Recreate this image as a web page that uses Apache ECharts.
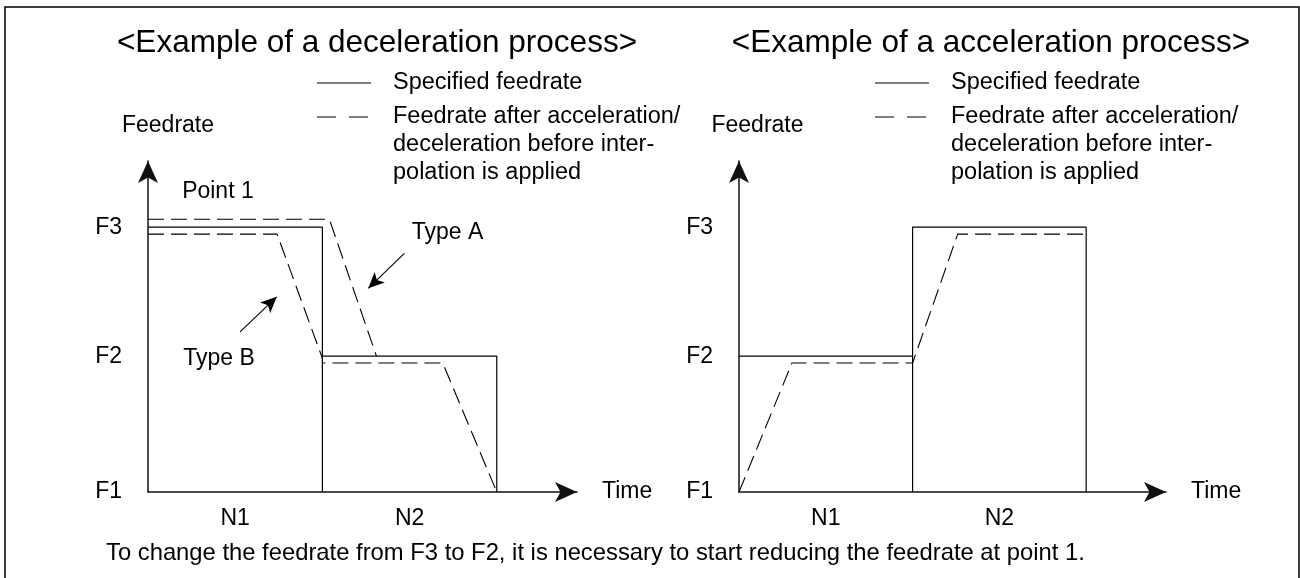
<!DOCTYPE html>
<html>
<head>
<meta charset="utf-8">
<script src="https://cdn.jsdelivr.net/npm/echarts@6/dist/echarts.min.js"></script>
<style>html,body{margin:0;padding:0;background:#fff;}#chart{width:1300px;height:578px;}</style>
</head>
<body>
<div id="chart"></div>
<script>
// ---- data ----
const xMax = 2.46;
const yMax = 12.5;
const yTickValues = [0, 5.13, 10];
const yTickLabels = ['F1', 'F2', 'F3'];
const xTickValues = [0.5, 1.5];
const xTickLabels = ['N1', 'N2'];

const decelSpecified = [[0, 10], [1, 10], [1, 0], [1, 5.13], [2, 5.13], [2, 0]];
const decelTypeA = [[0, 10.3], [1.04, 10.3], [1.31, 5.13]];
const decelTypeB = [[0, 9.74], [0.74, 9.74], [1, 5.05], [1, 4.87], [1.69, 4.87], [2, 0]];
const accelSpecified = [[0, 5.13], [1, 5.13], [1, 0], [1, 10], [2, 10], [2, 0]];
const accelActual = [[0, 0], [0.305, 4.87], [1, 4.87], [1.26, 9.74], [2, 9.74]];

const arrowTypeA = [[1.470, 9.01], [1.263, 7.69]];
const arrowTypeB = [[0.528, 6.05], [0.738, 7.37]];
const annotations = [
  { name: 'Point 1', coord: [0.401, 11.36] },
  { name: 'Type A', coord: [1.717, 9.81] },
  { name: 'Type B', coord: [0.407, 5.02] }
];

const titles = ['<Example of a deceleration process>', '<Example of a acceleration process>'];
const legendNames = ['Specified feedrate', 'Feedrate after acceleration/\ndeceleration before inter-\npolation is applied'];
const footer = 'To change the feedrate from F3 to F2, it is necessary to start reducing the feedrate at point 1.';
const yName = 'Feedrate';
const xName = 'Time';

// ---- styling ----
const FONT = 'Liberation Sans, Arial, sans-serif';
const INK = '#000';
const solidStyle = { color: INK, width: 1.2, type: 'solid' };
const dashStyle = { color: INK, width: 1.1, type: [16, 7] };

function makeX(gridIndex) {
  return {
    type: 'value', gridIndex, min: 0, max: xMax,
    name: xName, nameLocation: 'end', nameGap: 25,
    nameTextStyle: { fontFamily: FONT, fontSize: 23, color: INK },
    axisLine: { show: true, lineStyle: { color: '#111', width: 1.5 }, symbol: ['none', 'arrow'], symbolSize: [15, 22] },
    axisTick: { show: false },
    splitLine: { show: false },
    axisLabel: {
      customValues: xTickValues, margin: 15,
      fontFamily: FONT, fontSize: 23, color: INK,
      formatter: v => xTickLabels[xTickValues.indexOf(v)] || ''
    }
  };
}
function makeY(gridIndex, padLeft) {
  return {
    type: 'value', gridIndex, min: 0, max: yMax,
    name: yName, nameLocation: 'end', nameGap: 24,
    nameTextStyle: { fontFamily: FONT, fontSize: 23, color: INK, align: 'center', padding: [0, 0, 0, padLeft] },
    axisLine: { show: true, lineStyle: { color: '#111', width: 1.5 }, symbol: ['none', 'arrow'], symbolSize: [15, 22] },
    axisTick: { show: false },
    splitLine: { show: false },
    axisLabel: {
      customValues: yTickValues, margin: 26,
      fontFamily: FONT, fontSize: 23, color: INK,
      formatter: v => yTickLabels[yTickValues.indexOf(v)] || ''
    }
  };
}
function lineSeries(name, data, style, xi, extra) {
  return Object.assign({
    type: 'line', name, data, xAxisIndex: xi, yAxisIndex: xi,
    symbol: 'none', lineStyle: style, silent: true, animation: false, z: 3
  }, extra || {});
}
function arrowLine(pts) {
  return [{ coord: pts[0] }, { coord: pts[1] }];
}

const chart = echarts.init(document.getElementById('chart'), null, { renderer: 'canvas' });

function legendGraphic(x0, textX) {
  return [
    { type: 'line', shape: { x1: x0, y1: 83, x2: x0 + 54, y2: 83 }, style: { stroke: INK, lineWidth: 1.2 } },
    { type: 'line', shape: { x1: x0, y1: 117, x2: x0 + 54, y2: 117 }, style: { stroke: INK, lineWidth: 1.2, lineDash: [19, 13] } },
    { type: 'text', x: textX, y: 83, style: { text: legendNames[0], font: '23.5px ' + FONT, fill: INK, verticalAlign: 'middle' } },
    { type: 'text', x: textX, y: 103, style: { text: legendNames[1], font: '23.5px ' + FONT, fill: INK, lineHeight: 28, verticalAlign: 'top' } }
  ];
}

const option = {
  backgroundColor: '#fff',
  animation: false,
  textStyle: { fontFamily: FONT },
  title: [
    { text: titles[0], left: 372, top: 22, textAlign: 'center', textStyle: { fontFamily: FONT, fontSize: 31.5, fontWeight: 'normal', color: INK } },
    { text: titles[1], left: 986, top: 22, textAlign: 'center', textStyle: { fontFamily: FONT, fontSize: 31.5, fontWeight: 'normal', color: INK } }
  ],
  grid: [
    { left: 148, right: 723, top: 161, bottom: 86, containLabel: false },
    { left: 739, right: 134, top: 161, bottom: 86, containLabel: false }
  ],
  xAxis: [makeX(0), makeX(1)],
  yAxis: [makeY(0, 40), makeY(1, 37)],
  graphic: [
    { type: 'rect', shape: { x: 5, y: 7, width: 1294, height: 620 }, style: { fill: 'none', stroke: INK, lineWidth: 1.5 }, silent: true },
    ...legendGraphic(317, 393),
    ...legendGraphic(875, 951),
    { type: 'text', x: 106, y: 553, style: { text: footer, font: '23.8px ' + FONT, fill: INK, verticalAlign: 'middle' } }
  ],
  series: [
    lineSeries(legendNames[0], decelSpecified, solidStyle, 0, {
      markPoint: {
        symbol: 'circle', symbolSize: 1, itemStyle: { color: 'rgba(0,0,0,0)' }, silent: true, animation: false,
        label: { show: true, position: 'inside', formatter: '{b}', fontFamily: FONT, fontSize: 23, color: INK },
        data: annotations.map(a => ({ name: a.name, coord: a.coord }))
      },
      markLine: {
        symbol: ['none', 'arrow'], symbolSize: [11, 16], silent: true, animation: false,
        label: { show: false },
        lineStyle: { color: INK, width: 1.1, type: 'solid' },
        data: [arrowLine(arrowTypeA), arrowLine(arrowTypeB)]
      }
    }),
    lineSeries(legendNames[1] + ' (Type A)', decelTypeA, dashStyle, 0),
    lineSeries(legendNames[1] + ' (Type B)', decelTypeB, dashStyle, 0),
    lineSeries(legendNames[0] + ' ', accelSpecified, solidStyle, 1),
    lineSeries(legendNames[1] + ' ', accelActual, dashStyle, 1)
  ]
};
chart.setOption(option);
</script>
</body>
</html>
